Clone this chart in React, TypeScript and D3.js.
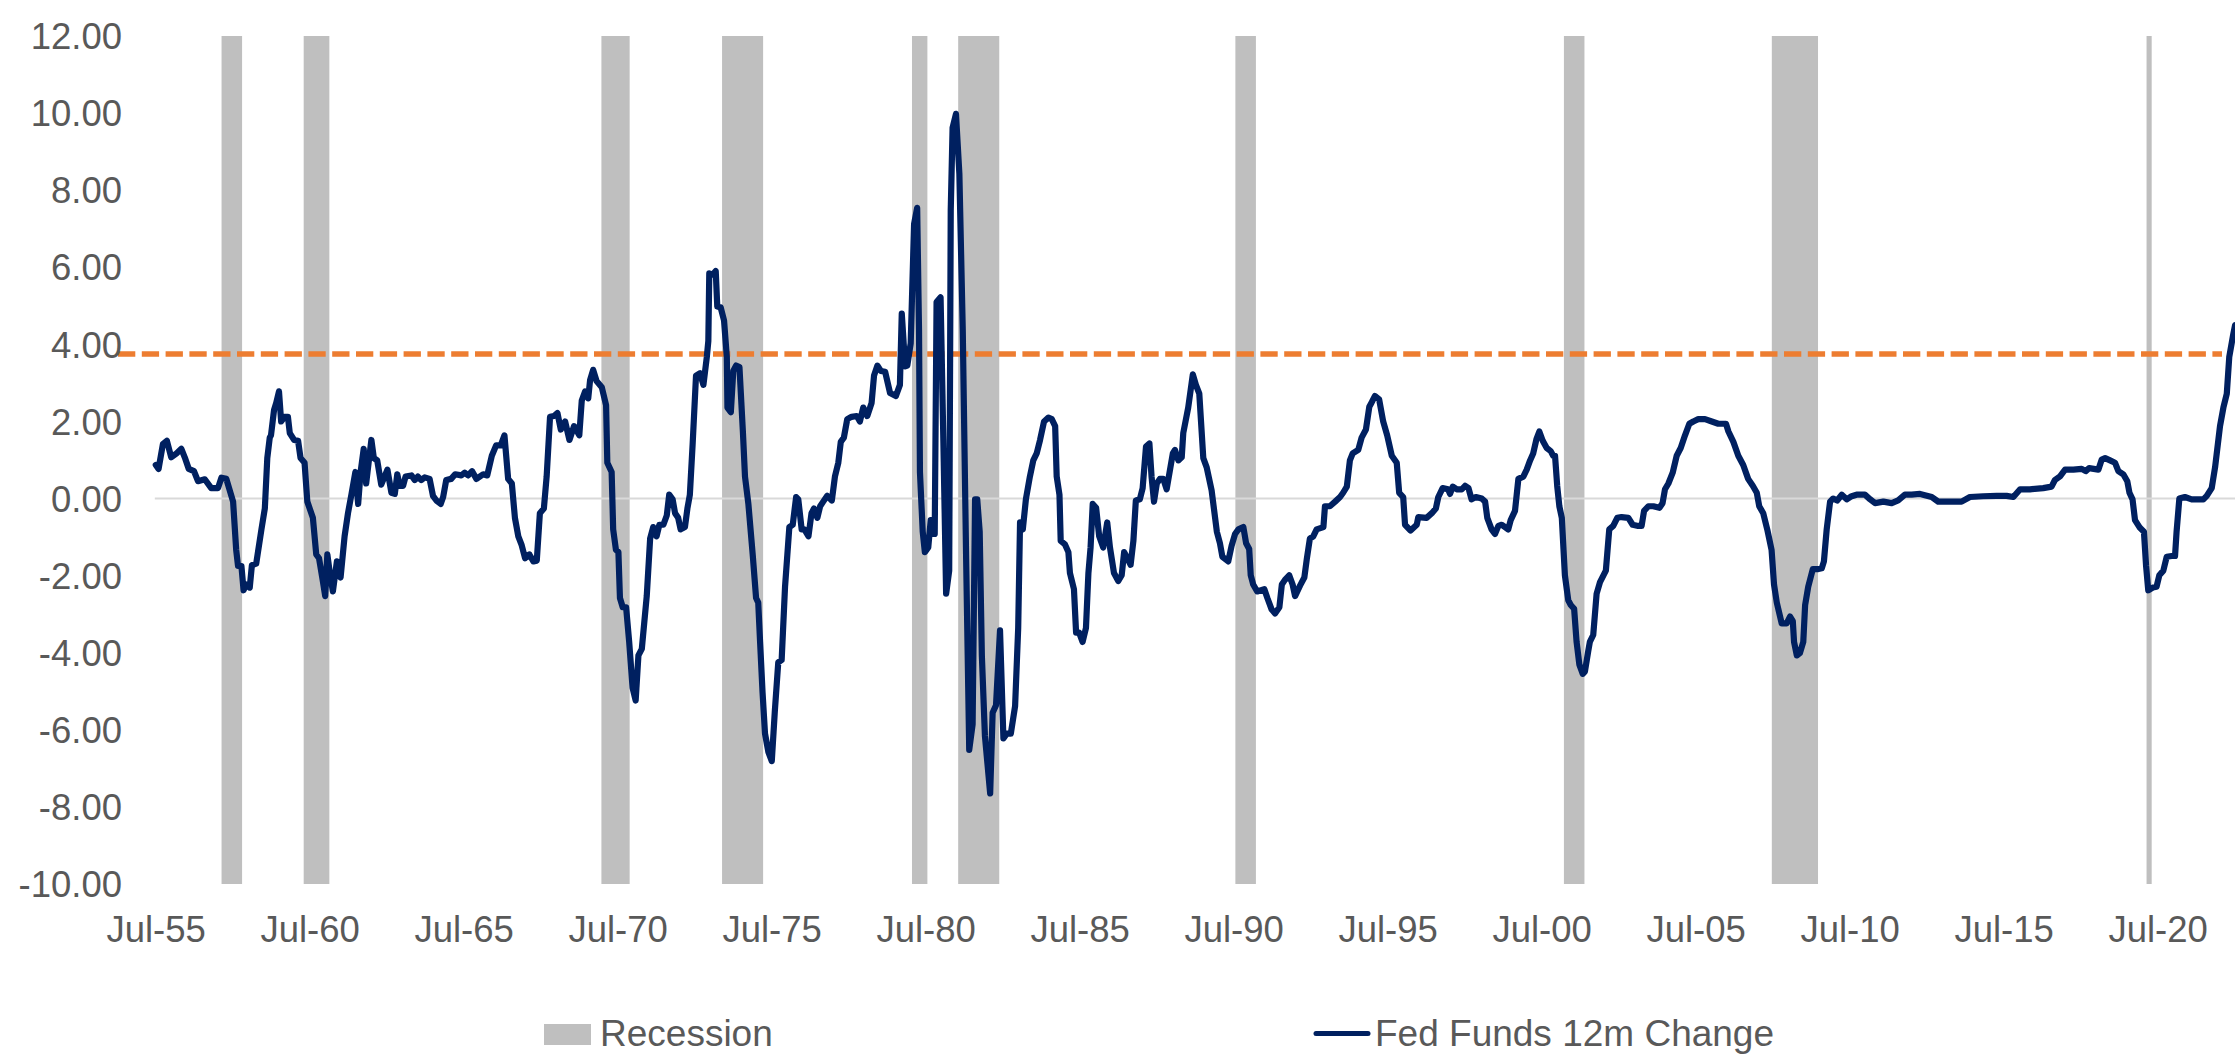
import React, { useEffect } from "react";
import * as d3 from "d3";

const W = 2235;
const H = 1055;

// ---------- data ----------
const yTicks = [-10, -8, -6, -4, -2, 0, 2, 4, 6, 8, 10, 12];
const xTickYears = [1955, 1960, 1965, 1970, 1975, 1980, 1985, 1990, 1995, 2000, 2005, 2010, 2015, 2020];
const xTickLabels = xTickYears.map((yr) => `Jul-${String(yr % 100).padStart(2, "0")}`);

// NBER recession months (first and last month shaded)
const recessions: [string, string][] = [
  ["1957-09", "1958-04"],
  ["1960-05", "1961-02"],
  ["1970-01", "1970-11"],
  ["1973-12", "1975-03"],
  ["1980-02", "1980-07"],
  ["1981-08", "1982-11"],
  ["1990-08", "1991-03"],
  ["2001-04", "2001-11"],
  ["2008-01", "2009-06"],
  ["2020-03", "2020-04"],
];

const thresholdLevel = 3.75;

// Fed Funds 12m change, [decimal year, value]
const ff1955: [number, number][] = [
  [1955.49, 0.87], [1955.58, 0.77], [1955.72, 1.41], [1955.85, 1.5], [1955.99, 1.07], [1956.16, 1.17], [1956.32, 1.29],
  [1956.43, 1.07], [1956.56, 0.77], [1956.73, 0.71], [1956.86, 0.45], [1957.08, 0.5], [1957.29, 0.27], [1957.51, 0.27],
  [1957.62, 0.54], [1957.78, 0.51], [1958.0, -0.08], [1958.1, -1.33], [1958.16, -1.75], [1958.27, -1.75], [1958.34, -2.38],
  [1958.43, -2.23], [1958.54, -2.31], [1958.61, -1.73], [1958.75, -1.69], [1958.92, -0.8], [1959.03, -0.26], [1959.11, 1.05],
  [1959.19, 1.58], [1959.23, 1.64], [1959.33, 2.3], [1959.4, 2.48], [1959.49, 2.78], [1959.56, 2.0], [1959.67, 2.12],
  [1959.78, 2.12], [1959.84, 1.7], [1959.98, 1.52], [1960.11, 1.5], [1960.19, 1.05], [1960.32, 0.93], [1960.41, -0.08],
  [1960.59, -0.5], [1960.7, -1.45], [1960.79, -1.55], [1960.92, -2.17], [1960.99, -2.53], [1961.06, -1.45], [1961.14, -1.93],
  [1961.24, -2.41], [1961.37, -1.63], [1961.49, -2.05], [1961.62, -0.98], [1961.73, -0.38], [1961.84, 0.1], [1961.97, 0.69],
  [1962.06, -0.14], [1962.14, 0.69], [1962.24, 1.29], [1962.32, 0.39], [1962.4, 0.93], [1962.49, 1.52], [1962.57, 1.05],
  [1962.68, 0.99], [1962.81, 0.36], [1963.01, 0.75], [1963.14, 0.15], [1963.25, 0.12], [1963.33, 0.63], [1963.41, 0.33],
  [1963.52, 0.33], [1963.6, 0.57], [1963.79, 0.6], [1963.9, 0.48], [1964.0, 0.57], [1964.11, 0.48], [1964.22, 0.55],
  [1964.38, 0.51], [1964.49, 0.07], [1964.6, -0.05], [1964.74, -0.14], [1964.82, 0.04], [1964.92, 0.48], [1965.08, 0.51],
  [1965.21, 0.63], [1965.41, 0.6], [1965.52, 0.67], [1965.63, 0.6], [1965.76, 0.71], [1965.9, 0.51],
];

const ff1966: [number, number][] = [
  [1966.12, 0.63], [1966.25, 0.6], [1966.4, 1.11], [1966.54, 1.38], [1966.69, 1.38], [1966.81, 1.64], [1966.93, 0.51],
  [1967.05, 0.39], [1967.15, -0.5], [1967.26, -0.98], [1967.37, -1.21], [1967.48, -1.55], [1967.62, -1.45], [1967.75, -1.63],
  [1967.86, -1.61], [1967.96, -0.38], [1968.09, -0.26], [1968.18, 0.57], [1968.29, 2.12], [1968.42, 2.14], [1968.53, 2.22],
  [1968.64, 1.79], [1968.78, 2.0], [1968.92, 1.52], [1969.07, 1.88], [1969.24, 1.64], [1969.32, 2.54], [1969.43, 2.78],
  [1969.53, 2.6], [1969.59, 3.07], [1969.69, 3.34], [1969.8, 3.05], [1969.97, 2.89], [1970.11, 2.42], [1970.15, 0.93],
  [1970.29, 0.69], [1970.34, -0.8], [1970.43, -1.33], [1970.51, -1.39], [1970.56, -2.58], [1970.65, -2.82], [1970.76, -2.82],
  [1970.86, -3.72], [1970.97, -4.91], [1971.07, -5.24], [1971.16, -4.07], [1971.27, -3.9], [1971.43, -2.53], [1971.54, -1.04],
  [1971.64, -0.74], [1971.75, -0.98], [1971.84, -0.68], [1971.97, -0.68], [1972.08, -0.44], [1972.16, 0.1], [1972.27, -0.02],
  [1972.35, -0.38], [1972.45, -0.5], [1972.53, -0.8], [1972.67, -0.74], [1972.75, -0.26], [1972.83, 0.1], [1972.92, 1.41],
  [1973.03, 3.19], [1973.16, 3.25], [1973.27, 2.95], [1973.38, 3.67], [1973.43, 4.09], [1973.46, 5.84], [1973.57, 5.81],
  [1973.67, 5.9], [1973.72, 4.98], [1973.83, 4.96], [1973.94, 4.62], [1974.03, 3.67], [1974.05, 2.36], [1974.16, 2.24],
  [1974.24, 3.31], [1974.33, 3.45], [1974.44, 3.41], [1974.55, 1.76], [1974.62, 0.57], [1974.73, -0.14], [1974.87, -1.45],
  [1974.98, -2.58], [1975.05, -2.7], [1975.11, -3.72], [1975.19, -5.03], [1975.27, -6.1], [1975.38, -6.58], [1975.49, -6.81],
  [1975.59, -5.5], [1975.7, -4.25], [1975.81, -4.19], [1975.92, -2.29], [1976.06, -0.74], [1976.17, -0.68], [1976.28, 0.04],
  [1976.35, -0.02], [1976.46, -0.8], [1976.55, -0.8], [1976.68, -0.98], [1976.78, -0.38], [1976.86, -0.26], [1976.97, -0.5],
];

const ff1977: [number, number][] = [
  [1977.06, -0.2], [1977.16, -0.08], [1977.29, 0.07], [1977.44, -0.05], [1977.54, 0.57], [1977.65, 0.93], [1977.73, 1.47],
  [1977.83, 1.58], [1977.94, 2.06], [1978.08, 2.12], [1978.25, 2.14], [1978.35, 2.0], [1978.46, 2.36], [1978.59, 2.14],
  [1978.73, 2.48], [1978.81, 3.19], [1978.92, 3.45], [1979.03, 3.31], [1979.17, 3.29], [1979.33, 2.74], [1979.52, 2.66],
  [1979.65, 2.95], [1979.71, 4.8], [1979.82, 3.43], [1979.89, 3.45], [1980.0, 4.03], [1980.11, 7.12], [1980.21, 7.54],
  [1980.27, 4.38], [1980.3, 0.69], [1980.39, -0.86], [1980.46, -1.39], [1980.57, -1.27], [1980.65, -0.56], [1980.73, -0.92],
  [1980.78, -0.92], [1980.84, 5.1], [1980.97, 5.22], [1981.06, 1.52], [1981.15, -2.47], [1981.25, -1.87], [1981.3, 7.48],
  [1981.36, 9.62], [1981.47, 9.98], [1981.58, 8.43], [1981.69, 4.38], [1981.8, -1.57], [1981.9, -6.52], [1982.01, -5.86],
  [1982.09, -0.02], [1982.16, -0.02], [1982.24, -0.86], [1982.31, -4.07], [1982.41, -6.16], [1982.58, -7.65], [1982.66, -5.56],
  [1982.77, -5.36], [1982.9, -3.42], [1983.01, -6.22], [1983.12, -6.1], [1983.25, -6.1], [1983.39, -5.38], [1983.49, -3.36],
  [1983.55, -0.62], [1983.64, -0.8], [1983.74, -0.02], [1983.87, 0.57], [1983.98, 0.99], [1984.09, 1.17], [1984.2, 1.52],
  [1984.33, 2.0], [1984.47, 2.1], [1984.58, 2.06], [1984.69, 1.88], [1984.74, 0.57], [1984.83, 0.1], [1984.87, -1.1],
  [1985.01, -1.19], [1985.12, -1.39], [1985.17, -1.93], [1985.3, -2.35], [1985.37, -3.48], [1985.47, -3.48], [1985.58, -3.72],
  [1985.69, -3.36], [1985.77, -1.93], [1985.84, -1.27], [1985.91, -0.14], [1986.02, -0.24], [1986.12, -0.98], [1986.25, -1.27],
  [1986.38, -0.62], [1986.47, -1.27], [1986.6, -1.93], [1986.74, -2.14], [1986.85, -1.99], [1986.93, -1.39], [1987.01, -1.51],
  [1987.14, -1.72], [1987.23, -1.1], [1987.31, -0.05], [1987.44, -0.02], [1987.53, 0.27], [1987.64, 1.35], [1987.75, 1.43],
  [1987.82, 0.57], [1987.9, -0.08], [1987.99, 0.39], [1988.09, 0.51], [1988.2, 0.51], [1988.31, 0.24],
];

const ff1988: [number, number][] = [
  [1988.51, 1.17], [1988.58, 1.26], [1988.69, 0.99], [1988.8, 1.07], [1988.85, 1.7], [1989.01, 2.36], [1989.16, 3.22],
  [1989.26, 2.95], [1989.37, 2.72], [1989.5, 1.05], [1989.61, 0.81], [1989.77, 0.21], [1989.94, -0.86], [1990.04, -1.16],
  [1990.12, -1.51], [1990.31, -1.63], [1990.42, -1.22], [1990.53, -0.92], [1990.64, -0.8], [1990.8, -0.74], [1990.89, -1.16],
  [1990.99, -1.31], [1991.04, -1.99], [1991.12, -2.23], [1991.25, -2.41], [1991.48, -2.35], [1991.58, -2.58], [1991.72, -2.88],
  [1991.83, -2.98], [1991.97, -2.82], [1992.05, -2.23], [1992.15, -2.11], [1992.29, -1.99], [1992.4, -2.23], [1992.48, -2.53],
  [1992.64, -2.26], [1992.78, -2.05], [1992.86, -1.57], [1992.96, -1.04], [1993.07, -0.98], [1993.18, -0.8], [1993.4, -0.74],
  [1993.45, -0.2], [1993.61, -0.2], [1993.78, -0.08], [1993.94, 0.04], [1994.04, 0.15], [1994.16, 0.31], [1994.26, 0.99],
  [1994.35, 1.17], [1994.53, 1.26], [1994.64, 1.58], [1994.78, 1.79], [1994.89, 2.38], [1994.97, 2.5], [1995.07, 2.66],
  [1995.21, 2.57], [1995.34, 2.0], [1995.47, 1.64], [1995.62, 1.11], [1995.78, 0.93], [1995.86, 0.15], [1995.99, 0.04],
  [1996.05, -0.68], [1996.23, -0.83], [1996.43, -0.68], [1996.48, -0.48], [1996.75, -0.5], [1996.92, -0.38], [1997.05, -0.26],
  [1997.13, 0.04], [1997.27, 0.27], [1997.45, 0.24], [1997.51, 0.12], [1997.6, 0.31], [1997.73, 0.24], [1997.89, 0.24],
  [1998.0, 0.33], [1998.11, 0.27], [1998.21, -0.02], [1998.35, 0.04], [1998.54, 0.0], [1998.65, -0.08], [1998.72, -0.5],
  [1998.86, -0.8], [1998.97, -0.92], [1999.08, -0.71], [1999.19, -0.68], [1999.4, -0.8], [1999.48, -0.56], [1999.62, -0.32],
  [1999.73, 0.51],
];

const ff1999: [number, number][] = [
  [1999.89, 0.57], [2000.0, 0.75], [2000.11, 0.99], [2000.21, 1.17], [2000.32, 1.55], [2000.41, 1.74], [2000.52, 1.5],
  [2000.65, 1.31], [2000.78, 1.23], [2000.86, 1.11], [2000.92, 1.11], [2000.99, 0.33], [2001.06, -0.2], [2001.14, -0.5],
  [2001.24, -1.99], [2001.35, -2.64], [2001.43, -2.76], [2001.54, -2.86], [2001.62, -3.72], [2001.71, -4.31], [2001.82, -4.55],
  [2001.89, -4.49], [2002.0, -3.95], [2002.05, -3.72], [2002.16, -3.54], [2002.27, -2.47], [2002.38, -2.17], [2002.57, -1.87],
  [2002.68, -0.8], [2002.81, -0.71], [2002.94, -0.5], [2003.08, -0.48], [2003.3, -0.5], [2003.44, -0.68], [2003.62, -0.71],
  [2003.73, -0.71], [2003.81, -0.32], [2003.95, -0.2], [2004.11, -0.2], [2004.31, -0.24], [2004.41, -0.12], [2004.49, 0.24],
  [2004.6, 0.39], [2004.74, 0.67], [2004.87, 1.11], [2005.0, 1.31], [2005.14, 1.64], [2005.28, 1.94], [2005.41, 2.0],
  [2005.57, 2.06], [2005.79, 2.06], [2006.01, 2.0], [2006.22, 1.94], [2006.47, 1.94], [2006.55, 1.74], [2006.71, 1.47],
  [2006.87, 1.11], [2007.03, 0.87], [2007.19, 0.51], [2007.34, 0.33], [2007.47, 0.15], [2007.55, -0.2], [2007.68, -0.38],
  [2007.81, -0.8], [2007.95, -1.33], [2008.03, -2.23], [2008.12, -2.7], [2008.28, -3.24], [2008.44, -3.24], [2008.55, -3.06],
  [2008.64, -3.18], [2008.68, -3.72], [2008.77, -4.07], [2008.87, -4.01], [2008.98, -3.72], [2009.04, -2.76], [2009.14, -2.29],
  [2009.29, -1.83], [2009.47, -1.83], [2009.58, -1.81], [2009.65, -1.63], [2009.74, -0.8], [2009.85, -0.08], [2009.95, 0.0],
  [2010.08, -0.05], [2010.23, 0.1], [2010.39, -0.02], [2010.55, 0.06], [2010.71, 0.1], [2010.98, 0.1], [2011.15, -0.02],
  [2011.31, -0.12],
];

const ff2011: [number, number][] = [
  [2011.58, -0.08], [2011.85, -0.12], [2012.06, -0.05], [2012.28, 0.1], [2012.5, 0.1], [2012.77, 0.12], [2013.15, 0.04],
  [2013.36, -0.08], [2013.74, -0.08], [2014.12, -0.08], [2014.39, 0.04], [2014.82, 0.06], [2015.26, 0.07], [2015.58, 0.07],
  [2015.8, 0.04], [2016.02, 0.24], [2016.34, 0.24], [2016.77, 0.27], [2017.04, 0.31], [2017.15, 0.48], [2017.31, 0.57],
  [2017.48, 0.75], [2017.75, 0.75], [2018.02, 0.77], [2018.15, 0.71], [2018.26, 0.79], [2018.56, 0.75], [2018.67, 1.01],
  [2018.78, 1.05], [2018.94, 0.99], [2019.1, 0.93], [2019.21, 0.71], [2019.37, 0.63], [2019.5, 0.45], [2019.57, 0.15],
  [2019.67, -0.02], [2019.75, -0.56], [2019.91, -0.76], [2020.04, -0.86], [2020.11, -1.75], [2020.18, -2.38], [2020.33, -2.31],
  [2020.45, -2.29], [2020.54, -1.99], [2020.67, -1.87], [2020.78, -1.51], [2020.94, -1.49], [2021.05, -1.49], [2021.1, -0.86],
  [2021.19, 0.0], [2021.37, 0.04], [2021.59, -0.02], [2021.97, -0.02], [2022.08, 0.07], [2022.24, 0.27], [2022.35, 0.81],
  [2022.51, 1.88], [2022.62, 2.36], [2022.73, 2.72], [2022.81, 3.67], [2022.94, 4.26], [2023.0, 4.5],
];

const fedFundsChange: [number, number][] = [...ff1955, ...ff1966, ...ff1977, ...ff1988, ...ff1999, ...ff2011];

// ---------- styling ----------
const FONT = "'Liberation Sans', Arial, Helvetica, sans-serif";
const TEXT = "#595959";
const NAVY = "#002060";
const ORANGE = "#ED7D31";
const GREY = "#BFBFBF";

const monthToYear = (s: string) => {
  const [yy, mm] = s.split("-").map(Number);
  return yy + (mm - 1) / 12;
};

export default function App() {
  useEffect(() => {
    document.body.style.margin = "0";
    document.body.style.overflow = "hidden";
  }, []);

  const x = d3.scaleLinear().domain([1955.5, 2020.5]).range([156.1, 2158.1]);
  const y = d3.scaleLinear().domain([-10, 12]).range([884, 36]);
  const line = d3
    .line<[number, number]>()
    .x((d) => x(d[0]))
    .y((d) => y(d[1]));

  const halfMonth = 1 / 24;
  const legendBase = 1046;

  return (
    <svg
      width={W}
      height={H}
      viewBox={`0 0 ${W} ${H}`}
      style={{ position: "absolute", left: 0, top: 0, background: "#fff" }}
      fontFamily={FONT}
    >
      <rect x={0} y={0} width={W} height={H} fill="#fff" />
      {/* recession bars */}
      {recessions.map(([s, e], i) => {
        const x0 = x(monthToYear(s) - halfMonth);
        const x1 = x(monthToYear(e) + halfMonth);
        return <rect key={i} x={x0} y={y(12)} width={x1 - x0} height={y(-10) - y(12)} fill={GREY} />;
      })}
      {/* zero axis line */}
      <line x1={x(1955.5 - halfMonth)} x2={W} y1={y(0)} y2={y(0)} stroke="#D9D9D9" strokeWidth={2} />
      {/* threshold dashed line */}
      <line
        x1={118}
        x2={2222}
        y1={y(thresholdLevel)}
        y2={y(thresholdLevel)}
        stroke={ORANGE}
        strokeWidth={5.5}
        strokeDasharray="17.3 6.5"
      />
      {/* series */}
      <path
        d={line(fedFundsChange) || ""}
        fill="none"
        stroke={NAVY}
        strokeWidth={6.2}
        strokeLinejoin="round"
        strokeLinecap="round"
      />
      {/* y axis labels */}
      {yTicks.map((t) => (
        <text key={t} x={122} y={y(t)} dy="0.36em" textAnchor="end" fontSize={36.5} fill={TEXT}>
          {t.toFixed(2)}
        </text>
      ))}
      {/* x axis labels */}
      {xTickYears.map((yr, i) => (
        <text key={yr} x={x(yr + 0.5)} y={942} textAnchor="middle" fontSize={36.5} fill={TEXT}>
          {xTickLabels[i]}
        </text>
      ))}
      {/* legend */}
      <rect x={544} y={legendBase - 22} width={47} height={21} fill={GREY} />
      <text x={600} y={legendBase} fontSize={37} fill={TEXT}>
        Recession
      </text>
      <line
        x1={1316}
        x2={1368}
        y1={legendBase - 12.5}
        y2={legendBase - 12.5}
        stroke={NAVY}
        strokeWidth={5}
        strokeLinecap="round"
      />
      <text x={1375} y={legendBase} fontSize={37} fill={TEXT}>
        Fed Funds 12m Change
      </text>
    </svg>
  );
}
